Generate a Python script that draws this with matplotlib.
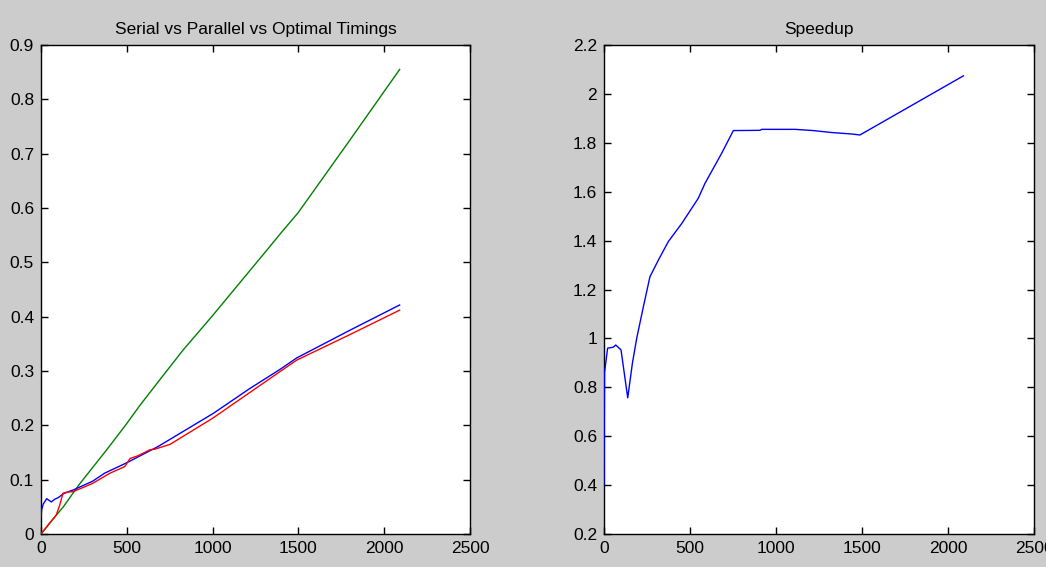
import matplotlib
matplotlib.use("Agg")
import matplotlib.pyplot as plt
from matplotlib.ticker import FuncFormatter

# Serial timings (green)
serial_x = [0, 90, 130, 220, 300, 383, 429, 499, 577, 700, 829, 927, 1000, 1315, 1393, 1500, 1800, 2090]
serial_y = [0, 0.035, 0.05, 0.09, 0.122, 0.155, 0.174, 0.203, 0.237, 0.287, 0.339, 0.375, 0.402, 0.522, 0.552, 0.592, 0.725, 0.855]

# Parallel timings (blue)
parallel_x = [0, 4, 13, 33, 60, 80, 101, 130, 177, 188, 300, 371, 499, 682, 1004, 1218, 1393, 1490, 1800, 2090]
parallel_y = [0.03, 0.045, 0.055, 0.065, 0.059, 0.064, 0.067, 0.074, 0.080, 0.081, 0.097, 0.112, 0.131, 0.161, 0.222, 0.268, 0.303, 0.324, 0.375, 0.4215]

# Optimal timings (red)
optimal_x = [0, 50, 89, 109, 128, 150, 188, 300, 402, 488, 519, 565, 635, 662, 752, 1000, 1393, 1490, 1800, 2090]
optimal_y = [0, 0.02, 0.035, 0.053, 0.075, 0.077, 0.078, 0.093, 0.112, 0.124, 0.139, 0.144, 0.155, 0.156, 0.165, 0.213, 0.299, 0.320, 0.367, 0.412]

# Speedup (blue)
speedup_x = [0, 3, 21, 54, 68, 99, 118, 138, 165, 190, 229, 267, 316, 374, 452, 548, 587, 684, 752, 907, 917, 1110, 1217, 1324, 1440, 1488, 2090]
speedup_y = [0.40, 0.86, 0.96, 0.964, 0.973, 0.953, 0.857, 0.757, 0.898, 1.0, 1.13, 1.252, 1.32, 1.396, 1.47, 1.573, 1.634, 1.757, 1.85, 1.851, 1.855, 1.855, 1.85, 1.842, 1.836, 1.832, 2.074]

x_ticks = [0, 500, 1000, 1500, 2000, 2500]
left_yticks = [0, 0.1, 0.2, 0.3, 0.4, 0.5, 0.6, 0.7, 0.8, 0.9]
right_yticks = [0.2, 0.4, 0.6, 0.8, 1.0, 1.2, 1.4, 1.6, 1.8, 2.0, 2.2]

plt.rcParams['font.family'] = ['Liberation Sans', 'DejaVu Sans']

fig = plt.figure(figsize=(10.46, 5.67), dpi=100, facecolor='#cccccc')
ax1 = fig.add_axes([41/1046, 1-534/567, 429/1046, 489/567])
ax2 = fig.add_axes([604/1046, 1-534/567, 430/1046, 489/567])

ax1.plot(serial_x, serial_y, color=(0, 0.5, 0), lw=1.0, zorder=3)
ax1.plot(parallel_x, parallel_y, color=(0, 0, 1), lw=1.0, zorder=3)
ax1.plot(optimal_x, optimal_y, color=(1, 0, 0), lw=1.0, zorder=3)
ax1.set_ylim(0, 0.9)
ax1.set_yticks(left_yticks)
ax1.set_title('Serial vs Parallel vs Optimal Timings', fontsize=12.5, pad=8)

ax2.plot(speedup_x, speedup_y, color=(0, 0, 1), lw=1.0, zorder=3)
ax2.set_ylim(0.2, 2.2)
ax2.set_yticks(right_yticks)
ax2.set_title('Speedup', fontsize=12.5, pad=8)

fmt = FuncFormatter(lambda v, p: ('%g' % round(v, 6)))
for ax in (ax1, ax2):
    ax.set_facecolor('white')
    ax.set_xlim(0, 2500)
    ax.set_xticks(x_ticks)
    ax.xaxis.set_major_formatter(fmt)
    ax.yaxis.set_major_formatter(fmt)
    ax.tick_params(direction='in', length=5, width=1, top=True, right=True,
                   labelsize=12.5, pad=5, colors='black')
    for s in ax.spines.values():
        s.set_linewidth(1)
        s.set_color('black')

fig.savefig('out.png', dpi=100, facecolor=fig.get_facecolor())
